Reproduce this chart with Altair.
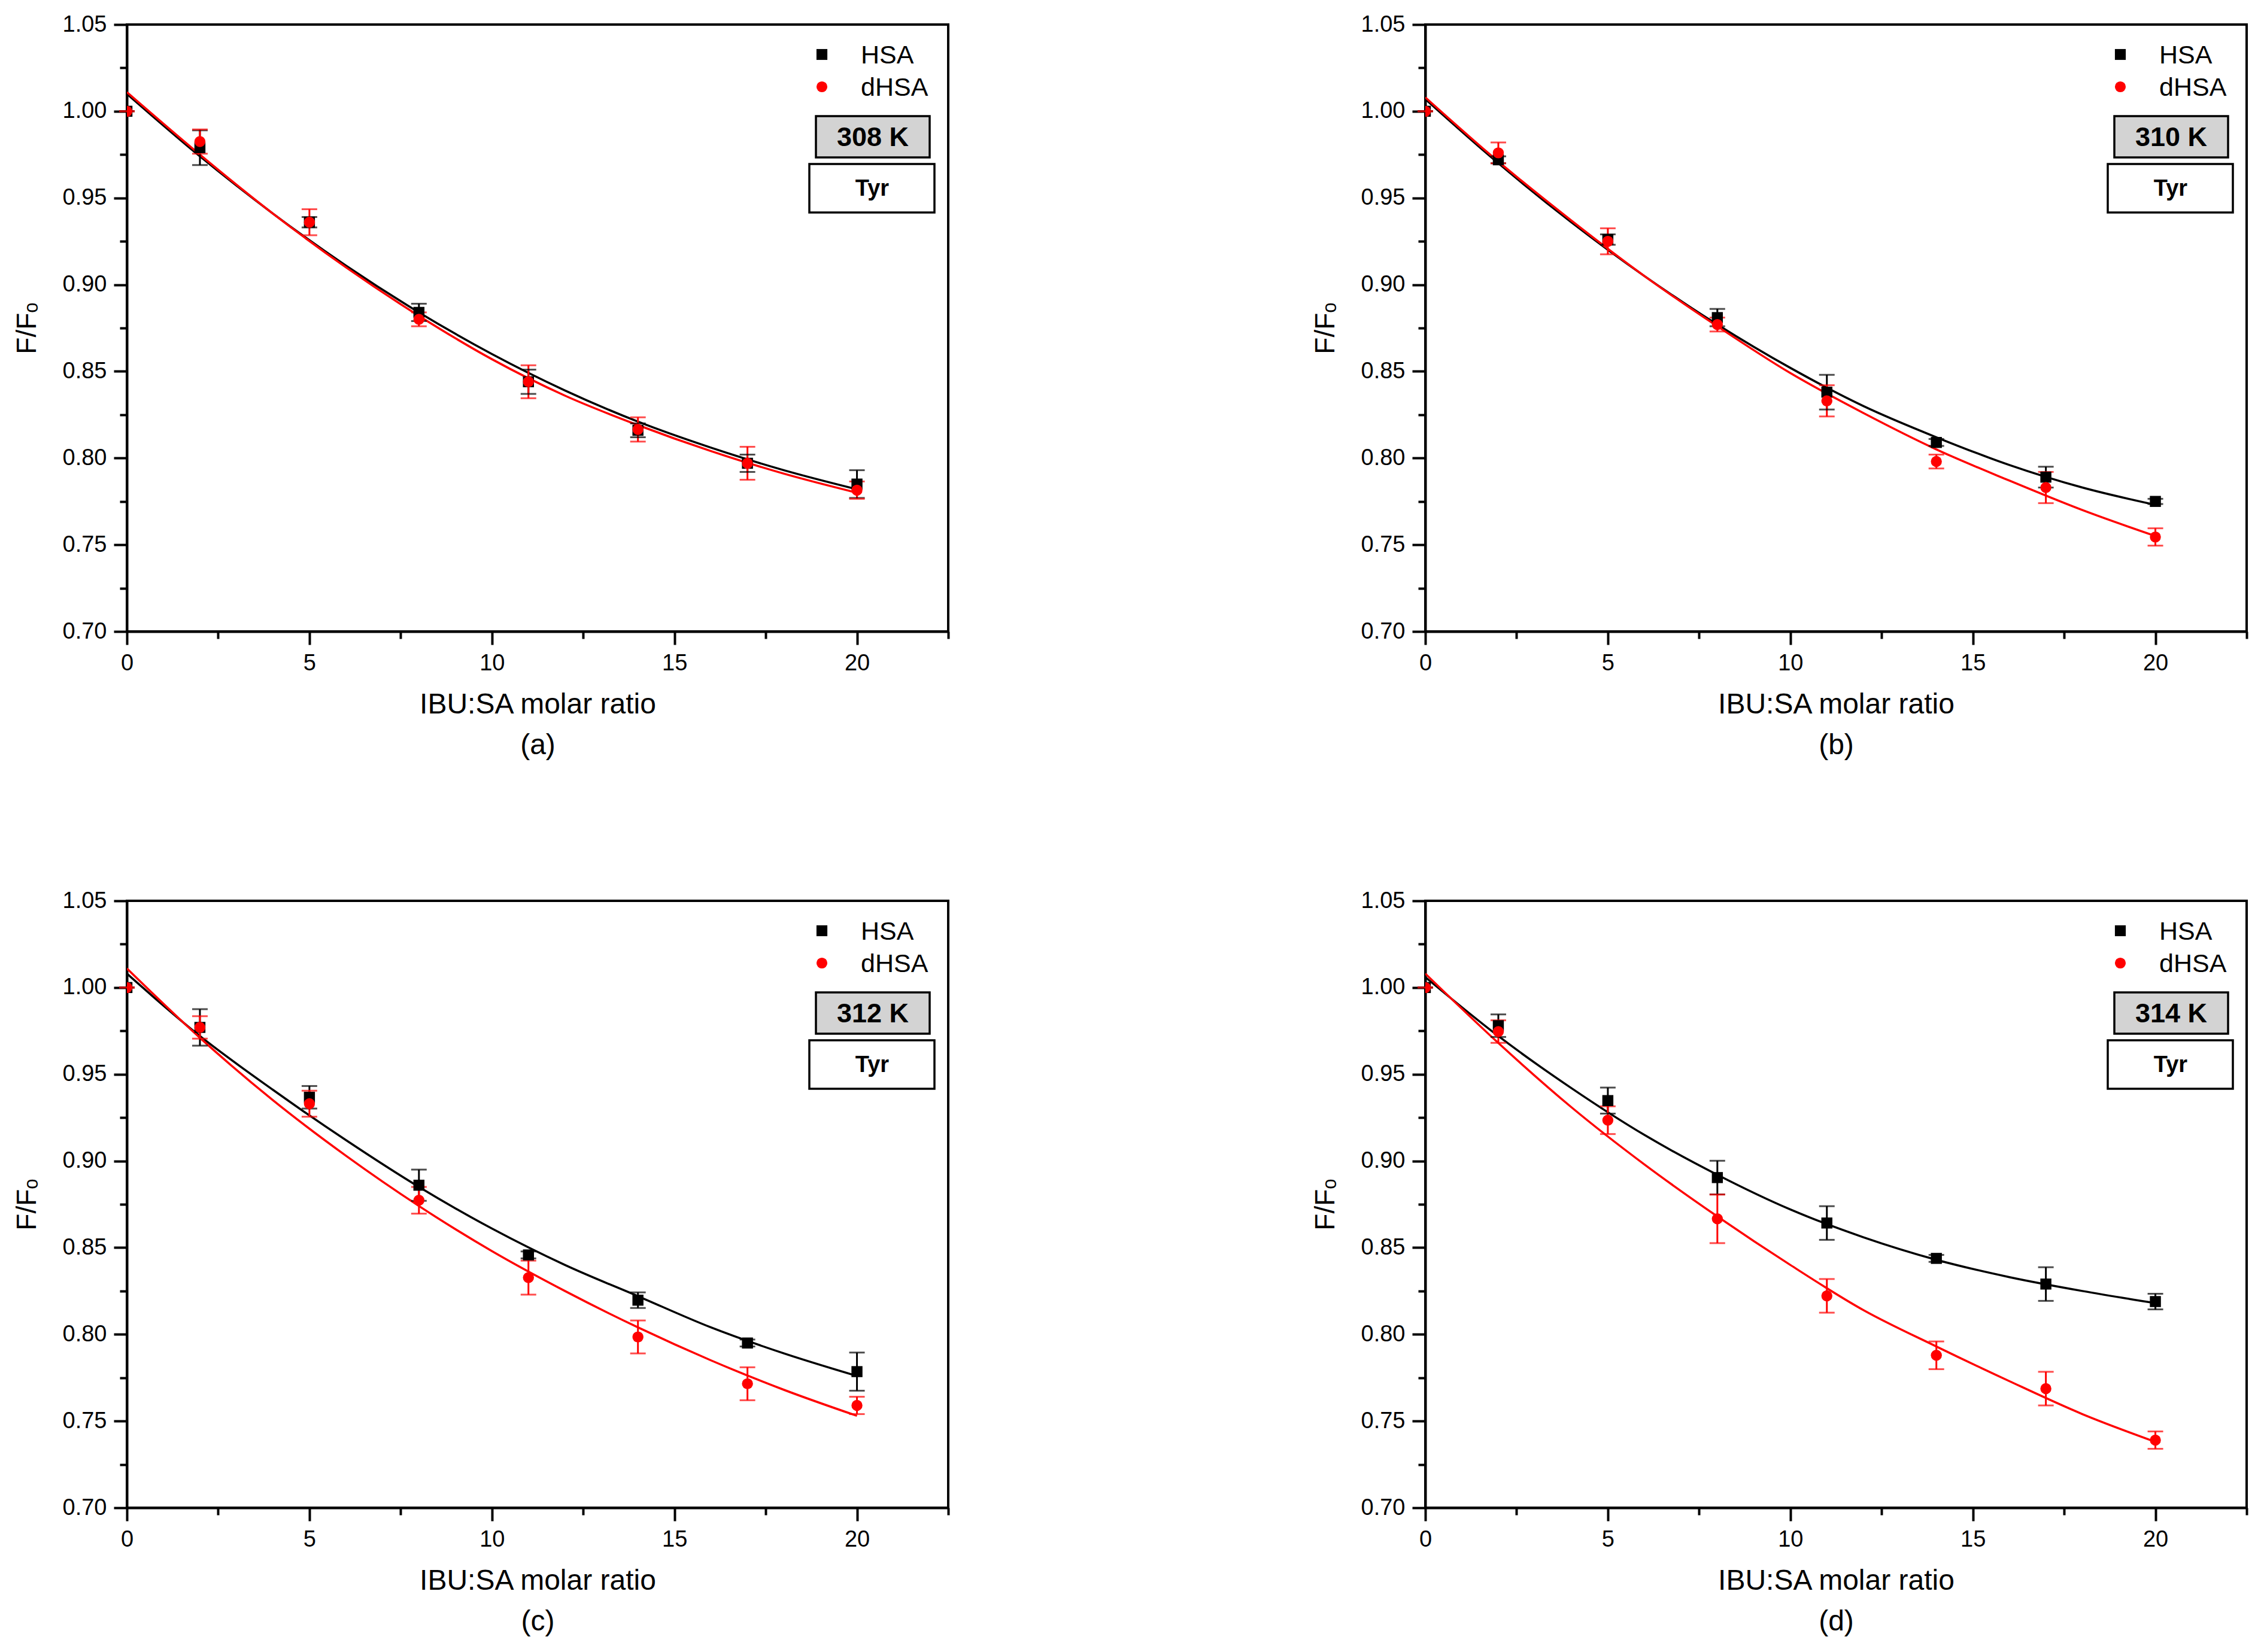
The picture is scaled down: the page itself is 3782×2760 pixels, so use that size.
import altair as alt
import pandas as pd

# ---------------- data ----------------
series_names = ["HSA", "dHSA"]
series_colors = ["#000000", "#ff0000"]
series_shapes = ["square", "circle"]

x_pts = [0, 2, 5, 8, 11, 14, 17, 20]
x_fit = [0, 2, 4, 6, 8, 10, 12, 14, 16, 18, 20]

panel_tags = ["(a)", "(b)", "(c)", "(d)"]
panel_temps = ["308 K", "310 K", "312 K", "314 K"]
probe_label = "Tyr"

# (a) 308 K
hsa_a = [1.000, 0.979, 0.936, 0.884, 0.844, 0.816, 0.797, 0.785]
hsa_a_err = [0, 0.010, 0.003, 0.005, 0.007, 0.004, 0.005, 0.008]
dhsa_a = [1.000, 0.9825, 0.936, 0.880, 0.844, 0.8165, 0.797, 0.7815]
dhsa_a_err = [0, 0.007, 0.0075, 0.004, 0.0095, 0.007, 0.0095, 0.005]
fit_hsa_a = [1.010, 0.974, 0.941, 0.911, 0.884, 0.860, 0.839, 0.821, 0.806, 0.793, 0.782]
fit_dhsa_a = [1.011, 0.975, 0.941, 0.910, 0.882, 0.857, 0.836, 0.819, 0.804, 0.791, 0.780]

# (b) 310 K
hsa_b = [1.000, 0.972, 0.926, 0.881, 0.838, 0.809, 0.789, 0.775]
hsa_b_err = [0, 0.002, 0.003, 0.005, 0.010, 0.002, 0.006, 0.0015]
dhsa_b = [1.000, 0.976, 0.925, 0.877, 0.833, 0.798, 0.783, 0.7545]
dhsa_b_err = [0, 0.006, 0.0075, 0.004, 0.009, 0.004, 0.009, 0.005]
fit_hsa_b = [1.007, 0.970, 0.936, 0.905, 0.877, 0.852, 0.830, 0.812, 0.796, 0.783, 0.773]
fit_dhsa_b = [1.008, 0.971, 0.937, 0.905, 0.876, 0.849, 0.826, 0.805, 0.787, 0.770, 0.755]

# (c) 312 K
hsa_c = [1.000, 0.977, 0.9367, 0.886, 0.8458, 0.8197, 0.795, 0.7785]
hsa_c_err = [0, 0.0105, 0.0065, 0.009, 0.002, 0.0045, 0.002, 0.011]
dhsa_c = [1.000, 0.977, 0.933, 0.8773, 0.8327, 0.7985, 0.7715, 0.759]
dhsa_c_err = [0, 0.0065, 0.0075, 0.0077, 0.0098, 0.0095, 0.0095, 0.005]
fit_hsa_c = [1.008, 0.972, 0.941, 0.912, 0.885, 0.861, 0.840, 0.822, 0.804, 0.789, 0.776]
fit_dhsa_c = [1.011, 0.971, 0.935, 0.903, 0.874, 0.848, 0.825, 0.804, 0.785, 0.768, 0.753]

# (d) 314 K
hsa_d = [1.000, 0.978, 0.9348, 0.8904, 0.8642, 0.8438, 0.829, 0.8189]
hsa_d_err = [0, 0.0065, 0.0075, 0.0097, 0.0097, 0.002, 0.0097, 0.0045]
dhsa_d = [1.000, 0.9746, 0.9235, 0.8666, 0.8222, 0.7879, 0.7687, 0.739]
dhsa_d_err = [0, 0.0065, 0.008, 0.014, 0.0097, 0.008, 0.0097, 0.005]
fit_hsa_d = [1.006, 0.972, 0.942, 0.915, 0.892, 0.872, 0.856, 0.843, 0.833, 0.825, 0.818]
fit_dhsa_d = [1.008, 0.968, 0.931, 0.898, 0.868, 0.840, 0.814, 0.793, 0.773, 0.754, 0.738]

x_ticks = [0, 2.5, 5, 7.5, 10, 12.5, 15, 17.5, 20, 22.5]
y_ticks = [0.70, 0.725, 0.75, 0.775, 0.80, 0.825, 0.85, 0.875, 0.90, 0.925,
           0.95, 0.975, 1.00, 1.025, 1.05]

panel_data = [
    (hsa_a, hsa_a_err, dhsa_a, dhsa_a_err, fit_hsa_a, fit_dhsa_a),
    (hsa_b, hsa_b_err, dhsa_b, dhsa_b_err, fit_hsa_b, fit_dhsa_b),
    (hsa_c, hsa_c_err, dhsa_c, dhsa_c_err, fit_hsa_c, fit_dhsa_c),
    (hsa_d, hsa_d_err, dhsa_d, dhsa_d_err, fit_hsa_d, fit_dhsa_d),
]

# ---------------- styling ----------------
FONT = "Liberation Sans"
W, H = 1372, 1014
LEG_X_SYM, LEG_X_TXT = 1161, 1226
LEG_Y = [50, 104]


def panel(i):
    hsa, hsa_e, dhsa, dhsa_e, fh, fd = panel_data[i]
    rows = []
    for name, ys, es in (("HSA", hsa, hsa_e), ("dHSA", dhsa, dhsa_e)):
        for xv, yv, ev in zip(x_pts, ys, es):
            rows.append({"x": xv, "y": yv, "lo": yv - ev, "hi": yv + ev, "series": name})
    pts = pd.DataFrame(rows)
    frows = []
    for name, ys in (("HSA", fh), ("dHSA", fd)):
        for xv, yv in zip(x_fit, ys):
            frows.append({"x": xv, "y": yv, "series": name})
    fit = pd.DataFrame(frows)

    xscale = alt.Scale(domain=[0, 22.5], nice=False, zero=False)
    yscale = alt.Scale(domain=[0.70, 1.05], nice=False, zero=False)
    major_y = "abs(round(datum.value*20) - datum.value*20) < 0.001"
    major_x = "abs(round(datum.value/5) - datum.value/5) < 0.001"
    xaxis = alt.Axis(
        values=x_ticks,
        labelExpr="(" + major_x + ") ? format(datum.value, 'd') : ''",
        tickSize={"condition": {"test": major_x, "value": 22}, "value": 12},
        title=["IBU:SA molar ratio", panel_tags[i]],
        titleFontSize=48, titleLineHeight=68, titlePadding=26,
        labelFontSize=38, labelPadding=12, labelFlush=False,
    )
    yaxis = alt.Axis(
        values=y_ticks,
        labelExpr="(" + major_y + ") ? format(datum.value, '.2f') : ''",
        tickSize={"condition": {"test": major_y, "value": 22}, "value": 12},
        title="F/F\u2092",
        titleFontSize=46, titlePadding=35,
        labelFontSize=38, labelPadding=12, labelFlush=False,
    )
    X = alt.X("x:Q", scale=xscale, axis=xaxis)
    Y = alt.Y("y:Q", scale=yscale, axis=yaxis)
    sc = alt.Scale(domain=series_names, range=series_colors)
    sh = alt.Scale(domain=series_names, range=series_shapes)

    lines = alt.Chart(fit).mark_line(strokeWidth=3.5, interpolate="monotone", clip=True).encode(
        x=X, y=Y, stroke=alt.Stroke("series:N", scale=sc, legend=None))
    bars = alt.Chart(pts).mark_rule(strokeWidth=3).encode(
        x="x:Q", y="lo:Q", y2="hi:Q", stroke=alt.Stroke("series:N", scale=sc, legend=None))
    caps_lo = alt.Chart(pts).mark_tick(thickness=3, size=26, orient="horizontal").encode(
        x="x:Q", y="lo:Q", fill=alt.Fill("series:N", scale=sc, legend=None))
    caps_hi = alt.Chart(pts).mark_tick(thickness=3, size=26, orient="horizontal").encode(
        x="x:Q", y="hi:Q", fill=alt.Fill("series:N", scale=sc, legend=None))
    points = alt.Chart(pts).mark_point(filled=True, size=340, opacity=1, clip=True).encode(
        x="x:Q", y="y:Q",
        color=alt.Color("series:N", scale=sc, legend=None),
        shape=alt.Shape("series:N", scale=sh, legend=None),
    )
    layers = [lines, bars, caps_lo, caps_hi, points]

    # legend (HSA / dHSA) drawn as symbols + labels in the top-right corner
    for k, name in enumerate(series_names):
        ld = pd.DataFrame({"name": [name]})
        layers.append(alt.Chart(ld).mark_point(filled=True, size=330, opacity=1,
                                               shape=series_shapes[k], color=series_colors[k]).encode(
            x=alt.value(LEG_X_SYM), y=alt.value(LEG_Y[k])))
        layers.append(alt.Chart(ld).mark_text(font=FONT, fontSize=43, align="left", baseline="middle",
                                              color="black").encode(
            x=alt.value(LEG_X_TXT), y=alt.value(LEG_Y[k] + 2), text="name:N"))

    ann = pd.DataFrame({"temp": [panel_temps[i]], "probe": [probe_label]})
    layers.append(alt.Chart(ann).mark_rect(fill="#d3d3d3", stroke="black", strokeWidth=3.5).encode(
        x=alt.value(1151), x2=alt.value(1341), y=alt.value(153), y2=alt.value(222)))
    layers.append(alt.Chart(ann).mark_text(font=FONT, fontSize=45, fontWeight="bold", align="center",
                                           baseline="middle", color="black").encode(
        x=alt.value(1246), y=alt.value(189), text="temp:N"))
    layers.append(alt.Chart(ann).mark_rect(fill="white", stroke="black", strokeWidth=3.5).encode(
        x=alt.value(1140), x2=alt.value(1349), y=alt.value(233), y2=alt.value(314)))
    layers.append(alt.Chart(ann).mark_text(font=FONT, fontSize=38, fontWeight="bold", align="center",
                                           baseline="middle", color="black").encode(
        x=alt.value(1245), y=alt.value(275), text="probe:N"))
    return alt.layer(*layers).properties(width=W, height=H)


res = dict(color="independent", shape="independent", stroke="independent", fill="independent")
chart = alt.concat(
    panel(0), panel(1), panel(2), panel(3),
    columns=2, spacing={"row": 450, "column": 797}, bounds="flush",
).resolve_scale(**res).properties(
    padding={"left": 12, "top": 12, "right": 5, "bottom": 5},
    background="white",
).configure_view(stroke="black", strokeWidth=4).configure_axis(
    domainColor="black", domainWidth=4, tickColor="black", tickWidth=4,
    labelColor="black", titleColor="black", labelFont=FONT, titleFont=FONT,
    titleFontWeight="normal", grid=False,
)

chart.save("out.html", embed_options={"renderer": "svg", "actions": False})
